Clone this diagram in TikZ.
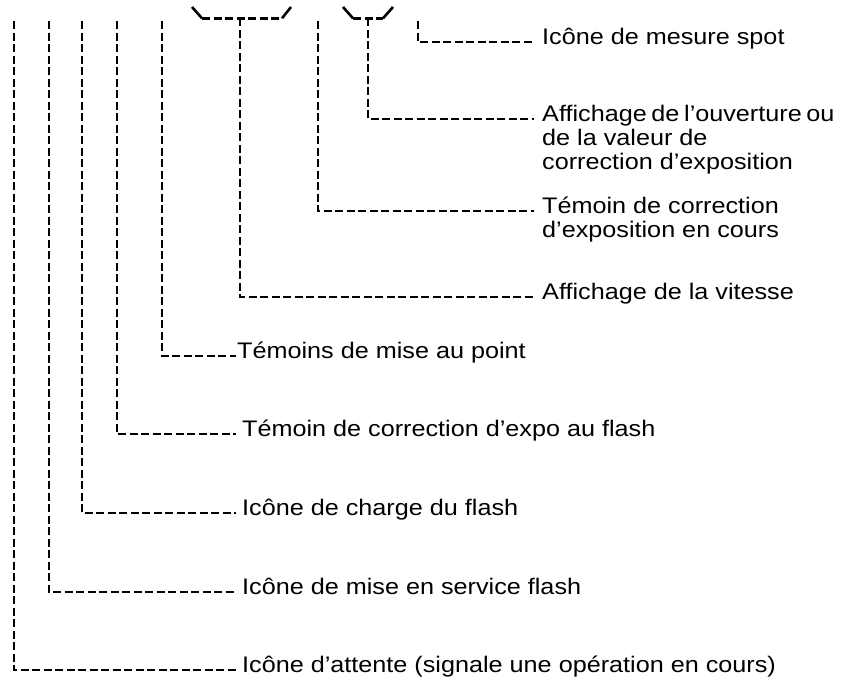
\documentclass[tikz,border=0pt]{standalone}
\usepackage{fontspec}
\setmainfont{Liberation Sans}[FakeStretch=1.12]
\begin{document}
\begin{tikzpicture}[
                x=1pt,
                y=-1pt,
                leader/.style={
                    line width=2.6pt,
                    dash pattern=on 8pt off 3.5pt
                },
                rim/.style={
                    line width=2.6pt
                },
                callout/.style={
                    anchor=base west,
                    inner sep=0pt,
                    font=\fontsize{22.5}{24}\selectfont
                }
            ]

                \useasboundingbox (0,0) rectangle (845,681);

                % brackets at the top
                \draw[rim] (192,7) -- (202,18.3);
                \draw[leader] (202,18.3) -- (282,18.3);
                \draw[rim] (282,18.3) -- (291,7);
                \draw[rim] (343,7) -- (353,18.3);
                \draw[leader] (353,18.3) -- (383,18.3);
                \draw[rim] (383,18.3) -- (393,7);

                \coordinate (busy-top) at (14,21);
                \coordinate (flashon-top) at (49,21);
                \coordinate (charge-top) at (82,21);
                \coordinate (flashcomp-top) at (117,21);
                \coordinate (focus-top) at (162,21);
                \coordinate (speed-top) at (240,18.3);
                \coordinate (expcomp-top) at (318,21);
                \coordinate (aperture-top) at (368,18.3);
                \coordinate (spot-top) at (418,21);

                \node[callout] (spot) at (542,44) {Icône de mesure spot};
                \node[callout] (aperture) at (542,121) {\begin{tabular}[t]{@{}l@{}}\makebox[292pt][s]{Affichage de l’ouverture ou}\\de la valeur de\\correction d’exposition\end{tabular}};
                \node[callout] (expcomp) at (542,213) {\begin{tabular}[t]{@{}l@{}}Témoin de correction\\d’exposition en cours\end{tabular}};
                \node[callout] (speed) at (542,299) {Affichage de la vitesse};
                \node[callout] (focus) at (237,358) {Témoins de mise au point};
                \node[callout] (flashcomp) at (242,436) {Témoin de correction d’expo au flash};
                \node[callout] (charge) at (242,515) {Icône de charge du flash};
                \node[callout] (flashon) at (242,594) {Icône de mise en service flash};
                \node[callout] (busy) at (242,672) {Icône d’attente (signale une opération en cours)};

                \draw[leader] (spot-top) |- ([xshift=-8pt,yshift=2pt]spot.base west);
                \draw[leader] (aperture-top) |- ([xshift=-8pt,yshift=2pt]aperture.base west);
                \draw[leader] (expcomp-top) |- ([xshift=-8pt,yshift=2pt]expcomp.base west);
                \draw[leader] (speed-top) |- ([xshift=-8pt,yshift=2pt]speed.base west);
                \draw[leader] (focus-top) |- ([xshift=-1pt,yshift=2pt]focus.base west);
                \draw[leader] (flashcomp-top) |- ([xshift=-6pt,yshift=2pt]flashcomp.base west);
                \draw[leader] (charge-top) |- ([xshift=-6pt,yshift=2pt]charge.base west);
                \draw[leader] (flashon-top) |- ([xshift=-6pt,yshift=2pt]flashon.base west);
                \draw[leader] (busy-top) |- ([xshift=-6pt,yshift=2pt]busy.base west);

            \end{tikzpicture}
\end{document}
